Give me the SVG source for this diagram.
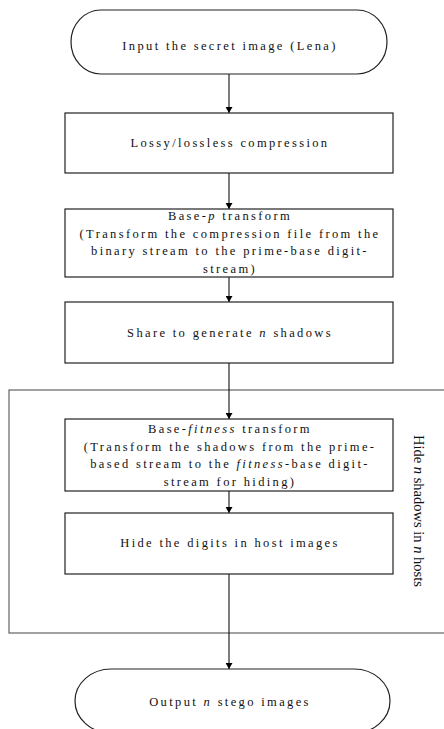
<svg xmlns="http://www.w3.org/2000/svg" width="444" height="729" viewBox="0 0 444 729">
<defs>
<marker id="ah" markerWidth="8" markerHeight="7" refX="6" refY="3.5" orient="auto" markerUnits="userSpaceOnUse">
<path d="M0,0 L6,3.5 L0,7 Z" fill="#000"/>
</marker>
<style>
.box{fill:#fff;stroke:#222;stroke-width:1.2}
.t{font-family:"Liberation Serif","Times New Roman",serif;font-size:12.5px;letter-spacing:2.35px;text-anchor:middle;fill:#111}
.c{stroke:#111;stroke-width:1.1;fill:none;marker-end:url(#ah)}
.grp{fill:none;stroke:#555;stroke-width:1.1}
.v{font-family:"Liberation Serif","Times New Roman",serif;font-size:14.5px;fill:#111}
</style>
</defs>
<rect width="444" height="729" fill="#fff"/>
<g id="group-hide">
<rect class="grp" x="9" y="390" width="445" height="243"/>
<text class="v" transform="translate(414,435) rotate(90)">Hide <tspan font-style="italic">n</tspan> shadows in <tspan font-style="italic">n</tspan> hosts</text>
</g>
<g id="connectors">
<line class="c" x1="229" y1="74" x2="229" y2="113"/>
<line class="c" x1="229" y1="173" x2="229" y2="209"/>
<line class="c" x1="229" y1="277" x2="229" y2="302"/>
<line class="c" x1="229" y1="363" x2="229" y2="419"/>
<line class="c" x1="229" y1="491" x2="229" y2="513"/>
<line class="c" x1="229" y1="574" x2="229" y2="669"/>
</g>
<g id="n-input">
<rect class="box" x="71" y="10" width="316" height="64" rx="30" ry="32"/>
<text class="t" x="230" y="50">Input the secret image (Lena)</text>
</g>
<g id="n-compress">
<rect class="box" x="65" y="113" width="328" height="60"/>
<text class="t" x="230" y="147">Lossy/lossless compression</text>
</g>
<g id="n-basep">
<rect class="box" x="65" y="209" width="328" height="68"/>
<text class="t" x="230" y="220">Base-<tspan font-style="italic">p</tspan> transform</text>
<text class="t" x="230" y="237.5">(Transform the compression file from the</text>
<text class="t" x="230" y="255">binary stream to the prime-base digit-</text>
<text class="t" x="230" y="272.5">stream)</text>
</g>
<g id="n-share">
<rect class="box" x="65" y="302" width="328" height="61"/>
<text class="t" x="230" y="337">Share to generate <tspan font-style="italic">n</tspan> shadows</text>
</g>
<g id="n-basefit">
<rect class="box" x="65" y="419" width="328" height="72"/>
<text class="t" x="230" y="433">Base-<tspan font-style="italic">fitness</tspan> transform</text>
<text class="t" x="230" y="450.5">(Transform the shadows from the prime-</text>
<text class="t" x="230" y="468">based stream to the <tspan font-style="italic">fitness</tspan>-base digit-</text>
<text class="t" x="230" y="485.5">stream for hiding)</text>
</g>
<g id="n-hide">
<rect class="box" x="65" y="513" width="328" height="61"/>
<text class="t" x="230" y="547">Hide the digits in host images</text>
</g>
<g id="n-output">
<rect class="box" x="75" y="669" width="315" height="64" rx="36" ry="32"/>
<text class="t" x="230" y="706">Output <tspan font-style="italic">n</tspan> stego images</text>
</g>
</svg>
